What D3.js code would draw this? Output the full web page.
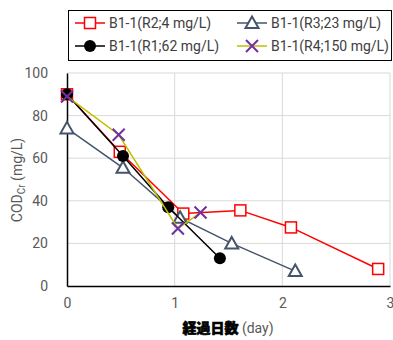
<!DOCTYPE html>
<html>
<head>
<meta charset="utf-8">
<script src="https://cdn.jsdelivr.net/npm/d3@7"></script>
<style>
  body { margin: 0; background: #fff; }
  text { font-family: Roboto, "Noto Sans", sans-serif; }
</style>
</head>
<body>
<div id="chart"></div>
<script>
// series data: [day, COD]
const r2 = [[0, 90], [0.49, 63], [1.08, 34], [1.61, 35.5], [2.08, 27.5], [2.89, 8]];
const r3 = [[0, 74], [0.52, 55.5], [1.05, 32], [1.53, 20], [2.12, 7]];
const r1 = [[0, 90], [0.52, 61], [0.94, 37], [1.42, 13]];
const r4 = [[0, 89], [0.48, 71], [1.03, 27], [1.24, 34.5]];

const xTicks = [0, 1, 2, 3];
const yTicks = [0, 20, 40, 60, 80, 100];

const series = [
  {name: "B1-1(R2;4 mg/L)", data: r2, color: "#ff0000", marker: "square"},
  {name: "B1-1(R3;23 mg/L)", data: r3, color: "#44546a", marker: "triangle"},
  {name: "B1-1(R1;62 mg/L)", data: r1, color: "#000000", marker: "circle"},
  {name: "B1-1(R4;150 mg/L)", data: r4, color: "#bfbf00", marker: "cross", mcolor: "#7030a0"}
];

const width = 393, height = 340;
const svg = d3.select("#chart").append("svg")
  .attr("width", width)
  .attr("height", height);

const xScale = d3.scaleLinear().domain([0, 3]).range([67, 390]);
const yScale = d3.scaleLinear().domain([0, 100]).range([286, 73]);

// gridlines
svg.append("g")
  .selectAll("line.h")
  .data(yTicks.filter(d => d > 0))
  .enter().append("line")
  .attr("x1", xScale(0)).attr("x2", xScale(3))
  .attr("y1", d => yScale(d)).attr("y2", d => yScale(d))
  .attr("stroke", "#d9d9d9").attr("stroke-width", 1);
svg.append("g")
  .selectAll("line.v")
  .data(xTicks.filter(d => d > 0))
  .enter().append("line")
  .attr("x1", d => xScale(d)).attr("x2", d => xScale(d))
  .attr("y1", yScale(0)).attr("y2", yScale(100))
  .attr("stroke", "#d9d9d9").attr("stroke-width", 1);

// axes
let xAxis = svg.append("g")
  .attr("transform", `translate(0,${yScale(0)})`)
  .call(d3.axisBottom(xScale).tickValues(xTicks).tickSize(0).tickPadding(12).tickFormat(d3.format("d")));
let yAxis = svg.append("g")
  .attr("transform", `translate(${xScale(0)},0)`)
  .call(d3.axisLeft(yScale).tickValues(yTicks).tickSize(0).tickPadding(19));
[xAxis, yAxis].forEach(a => {
  a.select(".domain").attr("stroke", "#000").attr("stroke-width", 1.5);
  a.selectAll("text").attr("font-size", "14px").attr("fill", "#595959")
    .attr("font-family", "Roboto, sans-serif");
});

// axis titles
let yTitle = svg.append("text")
  .attr("transform", "translate(22,180) rotate(-90)")
  .attr("text-anchor", "middle")
  .attr("font-size", "14px")
  .attr("fill", "#595959");
yTitle.append("tspan").text("COD");
yTitle.append("tspan").attr("font-size", "10px").attr("dy", 3).text("Cr");
yTitle.append("tspan").attr("dy", -3).text(" (mg/L)");

let xTitle = svg.append("text")
  .attr("x", 228).attr("y", 333)
  .attr("text-anchor", "middle")
  .attr("font-size", "14px");
xTitle.append("tspan").attr("font-family", "'Noto Sans CJK JP', sans-serif")
  .attr("font-weight", "900").attr("fill", "#000").attr("stroke", "#000").attr("stroke-width", 0.6)
  .text("経過日数");
xTitle.append("tspan").attr("fill", "#595959").text(" (day)");

// marker drawing
function drawMarker(g, s, x, y) {
  if (s.marker === "square") {
    g.append("rect").attr("x", x - 5.5).attr("y", y - 5.5)
      .attr("width", 11).attr("height", 11)
      .attr("fill", "#fff").attr("stroke", s.color).attr("stroke-width", 1.5);
  } else if (s.marker === "triangle") {
    g.append("path")
      .attr("d", `M${x},${y - 6.5}L${x + 6.5},${y + 5}L${x - 6.5},${y + 5}Z`)
      .attr("fill", "#fff").attr("stroke", s.color).attr("stroke-width", 2);
  } else if (s.marker === "circle") {
    g.append("circle").attr("cx", x).attr("cy", y).attr("r", 6).attr("fill", "#000");
  } else {
    g.append("path")
      .attr("d", `M${x - 6},${y - 6}L${x + 6},${y + 6}M${x - 6},${y + 6}L${x + 6},${y - 6}`)
      .attr("stroke", s.mcolor).attr("stroke-width", 2).attr("fill", "none");
  }
}

const line = d3.line().x(d => xScale(d[0])).y(d => yScale(d[1]));

series.forEach(s => {
  let g = svg.append("g");
  g.append("path").datum(s.data)
    .attr("d", line)
    .attr("fill", "none")
    .attr("stroke", s.color)
    .attr("stroke-width", 1.5);
  s.data.forEach(d => drawMarker(g, s, xScale(d[0]), yScale(d[1])));
});

// legend
let legend = svg.append("g");
legend.append("rect")
  .attr("x", 68.5).attr("y", 10.5).attr("width", 323).attr("height", 50)
  .attr("fill", "#fff").attr("stroke", "#000").attr("stroke-width", 1);
series.forEach((s, i) => {
  let col = i % 2, row = Math.floor(i / 2);
  let lx = col === 0 ? 75 : 237;
  let ly = row === 0 ? 23 : 46;
  let lg = legend.append("g");
  lg.append("line").attr("x1", lx).attr("x2", lx + 30)
    .attr("y1", ly).attr("y2", ly)
    .attr("stroke", s.color).attr("stroke-width", 1.5);
  drawMarker(lg, s, lx + 15, ly);
  lg.append("text").attr("x", lx + 34).attr("y", ly + 5)
    .attr("font-size", "14px").attr("fill", "#404040")
    .text(s.name);
});
</script>
</body>
</html>
